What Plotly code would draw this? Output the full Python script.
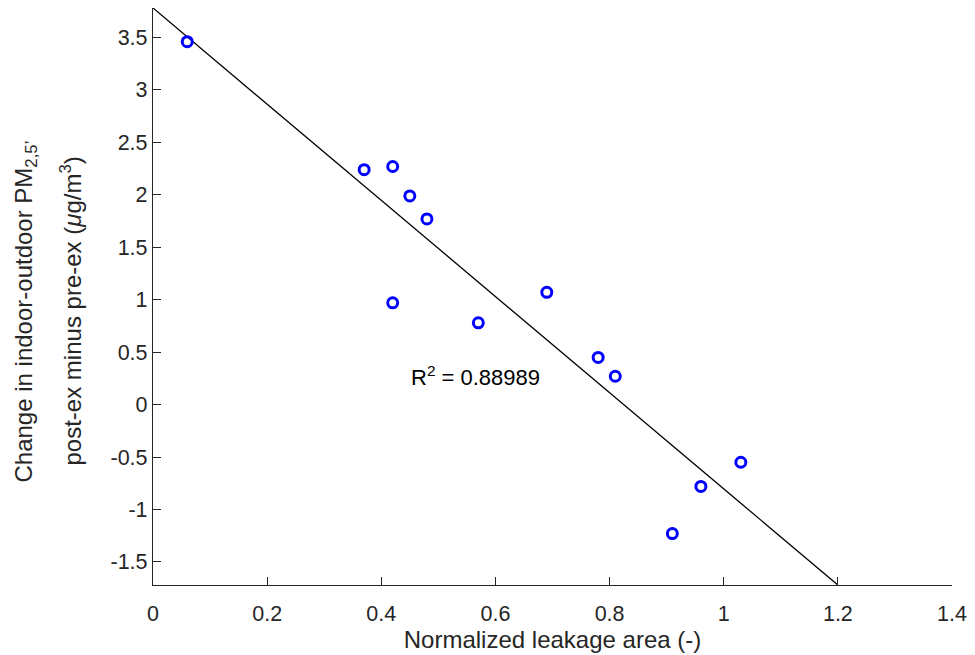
import numpy as np
import plotly.graph_objects as go

# Data
leak_area = [0.06, 0.37, 0.42, 0.45, 0.48, 0.42, 0.57, 0.69, 0.78, 0.81, 1.03, 0.96, 0.91]
pm_change = [3.46, 2.24, 2.27, 1.99, 1.77, 0.97, 0.78, 1.07, 0.45, 0.27, -0.55, -0.78, -1.23]

x_tickvals = [0, 0.2, 0.4, 0.6, 0.8, 1, 1.2, 1.4]
x_ticktext = ["0", "0.2", "0.4", "0.6", "0.8", "1", "1.2", "1.4"]
y_tickvals = [-1.5, -1, -0.5, 0, 0.5, 1, 1.5, 2, 2.5, 3, 3.5]
y_ticktext = ["-1.5", "-1", "-0.5", "0", "0.5", "1", "1.5", "2", "2.5", "3", "3.5"]

r2_text = "R<sup>2</sup> = 0.88989"

# least-squares fit line
slope, intercept = np.polyfit(leak_area, pm_change, 1)
fit_x = np.array([0.0, 1.2])
fit_y = intercept + slope * fit_x

FONT = "Liberation Sans, Arial, sans-serif"
TXT = "#262626"

fig = go.Figure()
fig.add_trace(go.Scatter(x=fit_x, y=fit_y, mode="lines",
                         line=dict(color="black", width=1.3), showlegend=False))
fig.add_trace(go.Scatter(x=leak_area, y=pm_change, mode="markers",
                         marker=dict(symbol="circle-open", size=10, color="#0000FF",
                                     line=dict(width=3, color="#0000FF")),
                         showlegend=False))

fig.add_annotation(x=0.448, y=0.27, xref="x", yref="y", text=r2_text,
                   showarrow=False, xanchor="left", yanchor="middle",
                   font=dict(family=FONT, size=22, color="black"))

# two-line y axis title as rotated annotations
fig.add_annotation(x=0, y=0.5, xref="paper", yref="paper",
                   text="Change in indoor-outdoor PM<sub>2,5’</sub>",
                   textangle=-90, showarrow=False, xanchor="center", yanchor="middle",
                   xshift=-128, yshift=-15, font=dict(family=FONT, size=24, color=TXT))
fig.add_annotation(x=0, y=0.5, xref="paper", yref="paper",
                   text="post-ex minus pre-ex (<i>μ</i>g/m<sup>3</sup>)",
                   textangle=-90, showarrow=False, xanchor="center", yanchor="middle",
                   xshift=-83, yshift=-15, font=dict(family=FONT, size=24, color=TXT))

fig.update_layout(
    width=975, height=655,
    margin=dict(l=153, r=20, t=8, b=70),
    paper_bgcolor="white", plot_bgcolor="white",
    font=dict(family=FONT, size=21.5, color=TXT),
    xaxis=dict(range=[0, 1.4], tickvals=x_tickvals, ticktext=x_ticktext,
               ticks="inside", ticklen=8, tickcolor=TXT, tickwidth=1,
               ticklabelstandoff=9,
               showline=True, linecolor=TXT, linewidth=1.3, mirror=False,
               showgrid=False, zeroline=False,
               title=dict(text="Normalized leakage area (-)",
                          font=dict(family=FONT, size=24, color=TXT), standoff=3)),
    yaxis=dict(range=[fit_y[1], fit_y[0]], tickvals=y_tickvals, ticktext=y_ticktext,
               ticks="inside", ticklen=8, tickcolor=TXT, tickwidth=1,
               showline=True, linecolor=TXT, linewidth=1.3, mirror=False,
               showgrid=False, zeroline=False),
)

fig.write_html("out.html")
